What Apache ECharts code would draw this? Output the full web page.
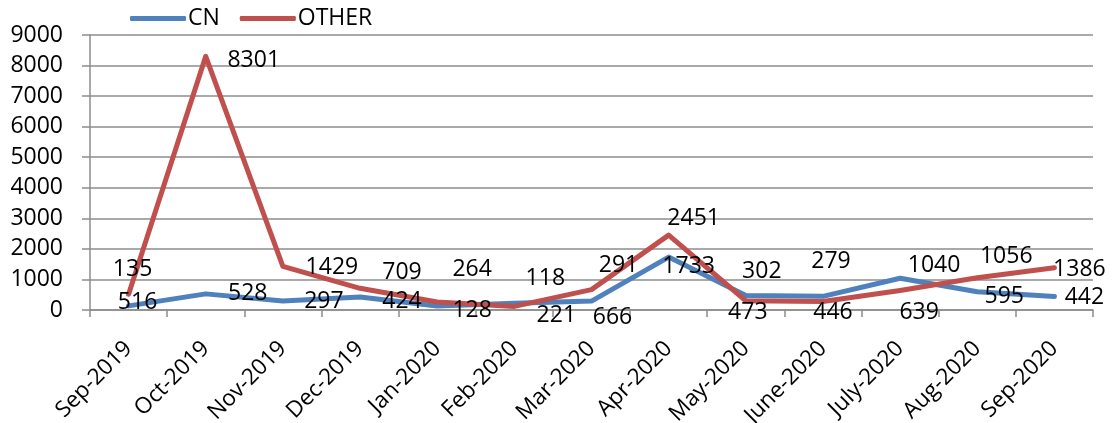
<!DOCTYPE html>
<html lang="en">
<head>
    <meta charset="utf-8">
    <title>CN vs OTHER</title>
    <script src="https://cdn.jsdelivr.net/npm/echarts@6/dist/echarts.min.js"></script>
    <style>
        html, body { margin: 0; padding: 0; background: #fff; }
        #main { width: 1113px; height: 423px; }
    </style>
</head>
<body>
<div id="main"></div>
<script type="text/javascript">
    // categories and values
    var months = ['Sep-2019', 'Oct-2019', 'Nov-2019', 'Dec-2019', 'Jan-2020', 'Feb-2020', 'Mar-2020',
        'Apr-2020', 'May-2020', 'June-2020', 'July-2020', 'Aug-2020', 'Sep-2020'];
    var cnValues = [135, 528, 297, 424, 128, 221, 291, 1733, 473, 446, 1040, 595, 442];
    var otherValues = [516, 8301, 1429, 709, 264, 118, 666, 2451, 302, 279, 639, 1056, 1386];
    var yTicks = [0, 1000, 2000, 3000, 4000, 5000, 6000, 7000, 8000, 9000];

    // where each data label sits relative to its point (px)
    var cnLabelOffsets = [[4, -36], [42, 0], [41, 1], [42, 4], [35, 4], [42, 12], [27, -36],
        [20, 9], [2, 17], [10, 16], [34, -13], [27, 5], [30, 1]];
    var otherLabelOffsets = [[9, 8], [48, 4], [49, 1], [42, -16], [35, -32], [31, -28], [21, 28],
        [25, -17], [16, -29], [8, -40], [19, 22], [29, -21], [25, 2]];

    var font = 'Open Sans';
    var fontSize = 23;
    var gridColor = '#8c8c8c';

    function withLabels(values, offsets) {
        return values.map(function (v, i) {
            return { value: v, label: { offset: offsets[i] } };
        });
    }

    function lineSeries(name, color, values, offsets) {
        return {
            name: name,
            type: 'line',
            data: withLabels(values, offsets),
            symbol: 'circle',
            symbolSize: 1,
            lineStyle: { color: color, width: 5, cap: 'round', join: 'round' },
            itemStyle: { color: color },
            label: {
                show: true,
                position: 'inside',
                formatter: '{c}',
                color: '#000',
                fontSize: fontSize,
                fontFamily: font
            },
            emphasis: { disabled: true },
            silent: true
        };
    }

    var myChart = echarts.init(document.getElementById('main'));
    myChart.setOption({
        animation: false,
        backgroundColor: '#fff',
        color: ['#4f81bd', '#c0504d'],
        legend: {
            left: 125,
            top: 2,
            icon: 'roundRect',
            itemWidth: 56,
            itemHeight: 5,
            itemGap: 20,
            textStyle: { fontSize: fontSize, fontFamily: font, color: '#000', padding: [0, 0, 0, -3] },
            data: ['CN', 'OTHER']
        },
        grid: { left: 90, right: 20, top: 35, bottom: 113, outerBoundsMode: 'none', containLabel: false },
        xAxis: {
            type: 'category',
            data: months,
            boundaryGap: true,
            axisLine: { lineStyle: { color: gridColor, width: 1.5 } },
            axisTick: { show: true, length: 7, lineStyle: { color: gridColor, width: 1.5 } },
            axisLabel: {
                rotate: 45,
                interval: 0,
                margin: 35,
                fontSize: 22.5,
                fontFamily: font,
                color: '#000'
            }
        },
        yAxis: {
            type: 'value',
            min: yTicks[0],
            max: yTicks[yTicks.length - 1],
            interval: yTicks[1] - yTicks[0],
            axisLine: { show: true, lineStyle: { color: gridColor, width: 1.5 } },
            axisTick: { show: true, length: 8, lineStyle: { color: gridColor, width: 1.5 } },
            splitLine: { lineStyle: { color: gridColor, width: 1.5 } },
            axisLabel: {
                margin: 27,
                fontSize: fontSize,
                fontFamily: font,
                color: '#000',
                formatter: function (v) { return String(v); }
            }
        },
        series: [
            lineSeries('CN', '#4f81bd', cnValues, cnLabelOffsets),
            lineSeries('OTHER', '#c0504d', otherValues, otherLabelOffsets)
        ]
    });
</script>
</body>
</html>
